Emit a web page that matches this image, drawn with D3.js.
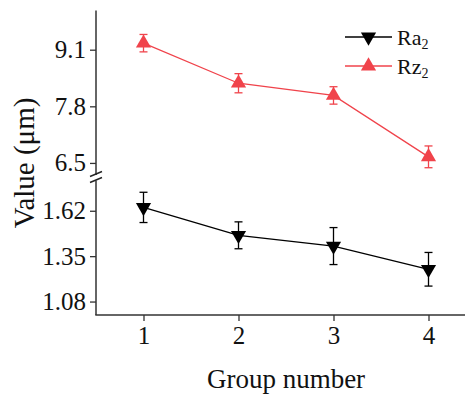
<!DOCTYPE html>
<html><head><meta charset="utf-8">
<script src="https://cdn.jsdelivr.net/npm/d3@7"></script>
<style>body{margin:0;background:#fff}svg{display:block}text{font-family:"Liberation Serif","Times New Roman",serif;fill:#111}</style>
</head><body><svg id="c" width="465" height="396"></svg>
<script>
const groups = [1, 2, 3, 4];
const raValues = [1.64, 1.474, 1.41, 1.272];
const raErrors = [0.09, 0.08, 0.11, 0.10];
const rzValues = [9.25, 8.33, 8.05, 6.64];
const rzErrors = [0.20, 0.22, 0.20, 0.25];
const topTicks = [6.5, 7.8, 9.1];
const bottomTicks = [1.08, 1.35, 1.62];
const seriesNames = ["Ra", "Rz"];

const svg = d3.select("#c");
const axisColor = "#333";
const red = "#f0434b";

const x = d3.scaleLinear().domain([0.5, 4.5]).range([96, 476]);
const yTop = d3.scaleLinear().domain([6.2, 10.0]).range([176, 10.5]);
const yBot = d3.scaleLinear().domain([1.0, 1.8]).range([315, 180.5]);

function styleAxis(g){
  g.selectAll("path.domain").remove();
  g.selectAll(".tick line").attr("stroke", axisColor).attr("stroke-width", 1.3);
  g.selectAll(".tick text").attr("font-size", 25).attr("font-family", "Liberation Serif").attr("fill", "#111");
}

// y axes
const gTop = svg.append("g").attr("transform", "translate(96,0)")
  .call(d3.axisLeft(yTop).tickValues(topTicks).tickFormat(d3.format(".1f")).tickSize(6).tickPadding(4));
styleAxis(gTop);
const gBot = svg.append("g").attr("transform", "translate(96,0)")
  .call(d3.axisLeft(yBot).tickValues(bottomTicks).tickFormat(d3.format(".2f")).tickSize(6).tickPadding(4));
styleAxis(gBot);
svg.append("line").attr("x1",96).attr("x2",96).attr("y1",yTop.range()[1]).attr("y2",yTop.range()[0]-1).attr("stroke",axisColor).attr("stroke-width",1.5);
svg.append("line").attr("x1",96).attr("x2",96).attr("y1",yBot.range()[1]).attr("y2",yBot.range()[0]).attr("stroke",axisColor).attr("stroke-width",1.5);
// break marks
[174, 180].forEach(cy => {
  svg.append("line").attr("x1",90).attr("x2",102).attr("y1",cy+2.5).attr("y2",cy-2.5).attr("stroke","#222").attr("stroke-width",1.4);
});

// x axis
const gX = svg.append("g").attr("transform", "translate(0,315)")
  .call(d3.axisBottom(x).tickValues(groups).tickFormat(d3.format("d")).tickSize(6).tickPadding(5));
styleAxis(gX);
svg.append("line").attr("x1",95.3).attr("x2",476).attr("y1",315).attr("y2",315).attr("stroke",axisColor).attr("stroke-width",1.5);

// titles
svg.append("text").attr("x", 286).attr("y", 388).attr("text-anchor","middle").attr("font-size",27).text("Group number");
svg.append("text").attr("transform","translate(34,163) rotate(-90)").attr("text-anchor","middle").attr("font-size",29).text("Value (μm)");

const tri = d3.symbol().type(d3.symbolTriangle).size(100);

function drawSeries(vals, errs, y, color, down){
  const g = svg.append("g");
  const line = d3.line().x((d,i)=>x(groups[i])).y(d=>y(d));
  g.append("path").attr("d", line(vals)).attr("fill","none").attr("stroke",color).attr("stroke-width",1.3);
  vals.forEach((v,i)=>{
    const cx = x(groups[i]);
    const y1 = y(v+errs[i]), y2 = y(v-errs[i]);
    g.append("line").attr("x1",cx).attr("x2",cx).attr("y1",y1).attr("y2",y2).attr("stroke",color).attr("stroke-width",1.3);
    [y1,y2].forEach(yy=>g.append("line").attr("x1",cx-4).attr("x2",cx+4).attr("y1",yy).attr("y2",yy).attr("stroke",color).attr("stroke-width",1.3));
    g.append("path").attr("d", tri()).attr("fill",color)
      .attr("transform",`translate(${cx},${y(v)}) rotate(${down?180:0})`);
  });
}
drawSeries(rzValues, rzErrors, yTop, red, false);
drawSeries(raValues, raErrors, yBot, "#000", true);

// legend
const legend = [
  {name: seriesNames[0], color: "#000", down: true, y: 37},
  {name: seriesNames[1], color: red, down: false, y: 66}
];
legend.forEach(l=>{
  svg.append("line").attr("x1",345).attr("x2",392).attr("y1",l.y).attr("y2",l.y).attr("stroke",l.color).attr("stroke-width",1.3);
  svg.append("path").attr("d", tri()).attr("fill",l.color).attr("transform",`translate(368.5,${l.y}) rotate(${l.down?180:0})`);
  const t = svg.append("text").attr("x",397).attr("y",l.y+8).attr("font-size",22);
  t.append("tspan").text(l.name);
  t.append("tspan").attr("font-size",14).attr("dy",4).text("2");
});
</script></body></html>
